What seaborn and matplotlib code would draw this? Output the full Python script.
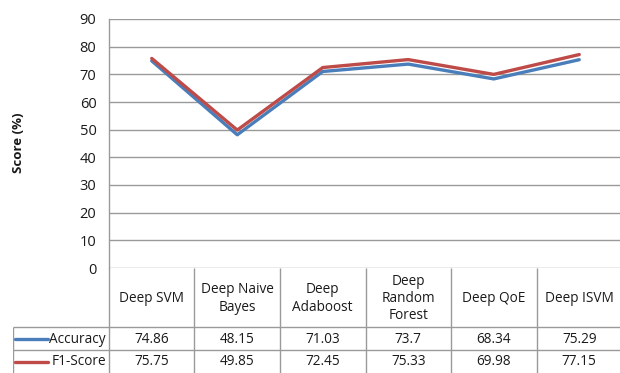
import matplotlib
matplotlib.use("Agg")
import matplotlib.pyplot as plt
import seaborn as sns
import pandas as pd
from matplotlib.lines import Line2D

# Model names (table header) and scores per metric
models = ["Deep SVM", "Deep Naive\nBayes", "Deep\nAdaboost", "Deep\nRandom\nForest", "Deep QoE", "Deep ISVM"]
accuracy = [74.86, 48.15, 71.03, 73.7, 68.34, 75.29]
f1_score = [75.75, 49.85, 72.45, 75.33, 69.98, 77.15]
series_names = ["Accuracy", "F1-Score"]
y_ticks = [0, 10, 20, 30, 40, 50, 60, 70, 80, 90]

colors = {"Accuracy": "#4A7EBB", "F1-Score": "#BE4B48"}
grid_col = "#9a9a9a"
text_col = "#1a1a1a"

sns.set_theme(style="white")
plt.rcParams["font.family"] = ["Open Sans", "DejaVu Sans"]

W, H = 620, 373
fig = plt.figure(figsize=(W / 100, H / 100), dpi=100)

def fx(px):
    return px / W

def fy(py):
    return 1 - py / H

# plot area geometry (pixels)
left_px, right_px, top_px, zero_px = 109, 622, 19, 268
ax = fig.add_axes([fx(left_px), fy(zero_px), fx(right_px) - fx(left_px), fy(top_px) - fy(zero_px)])

df = pd.DataFrame({
    "pos": list(range(len(models))) * 2,
    "score": accuracy + f1_score,
    "metric": [series_names[0]] * len(models) + [series_names[1]] * len(models),
})
sns.lineplot(data=df, x="pos", y="score", hue="metric", palette=colors,
             linewidth=2.4, ax=ax, legend=False, sort=False)

ax.set_xlim(-0.5, len(models) - 0.5)
ax.set_ylim(0, 90)
ax.set_yticks(y_ticks)
ax.set_yticklabels([str(t) for t in y_ticks], fontsize=10.5, color=text_col)
ax.set_xticks([])
ax.set_xlabel("")
ax.set_ylabel("")
for t in y_ticks:
    ax.axhline(t, color=grid_col, lw=1, zorder=0)
for s in ["top", "right", "bottom"]:
    ax.spines[s].set_visible(False)
ax.spines["left"].set_color(grid_col)
ax.spines["left"].set_linewidth(1)
ax.tick_params(axis="y", length=0, pad=9)
ax.patch.set_alpha(0)

fig.text(fx(18), fy(143), "Score (%)", rotation=90, ha="center", va="center",
         fontsize=9.5, fontweight="bold", color=text_col)

# data table under the plot
legend_left_px = 13
col_w = (right_px - left_px) / len(models)
tab = fig.add_axes([fx(legend_left_px), 0, fx(right_px) - fx(legend_left_px), fy(zero_px)])
tab.set_xlim(-0.5 - (left_px - legend_left_px) / col_w, len(models) - 0.5)
tab.set_ylim(H - zero_px, 0)
tab.axis("off")

header_h = 59
row_h = 22.5
lc = dict(color=grid_col, lw=1, solid_capstyle="butt")
x_leg = -0.5 - (left_px - legend_left_px) / col_w
# vertical separators
for i in range(len(models) + 1):
    tab.add_line(Line2D([i - 0.5, i - 0.5], [0, H - zero_px], **lc))
tab.add_line(Line2D([x_leg, x_leg], [header_h, H - zero_px], **lc))
# horizontal separators
tab.add_line(Line2D([x_leg, len(models) - 0.5], [header_h, header_h], **lc))
tab.add_line(Line2D([x_leg, len(models) - 0.5], [header_h + row_h, header_h + row_h], **lc))

for i, m in enumerate(models):
    tab.text(i, header_h / 2 + 1, m, ha="center", va="center", fontsize=9.8,
             color=text_col, linespacing=1.2)

for r, (name, vals) in enumerate(zip(series_names, [accuracy, f1_score])):
    yc = header_h + row_h * (r + 0.5) + 1
    for i, v in enumerate(vals):
        tab.text(i, yc, f"{v:g}", ha="center", va="center", fontsize=9.8, color=text_col)
    x0 = x_leg + 2 / col_w
    x1 = x_leg + 35 / col_w
    tab.add_line(Line2D([x0, x1], [yc, yc], color=colors[name], lw=2.4))
    tab.text(-0.5 - 3 / col_w, yc, name, ha="right", va="center", fontsize=9.8, color=text_col)

fig.savefig("out.png", dpi=100)
